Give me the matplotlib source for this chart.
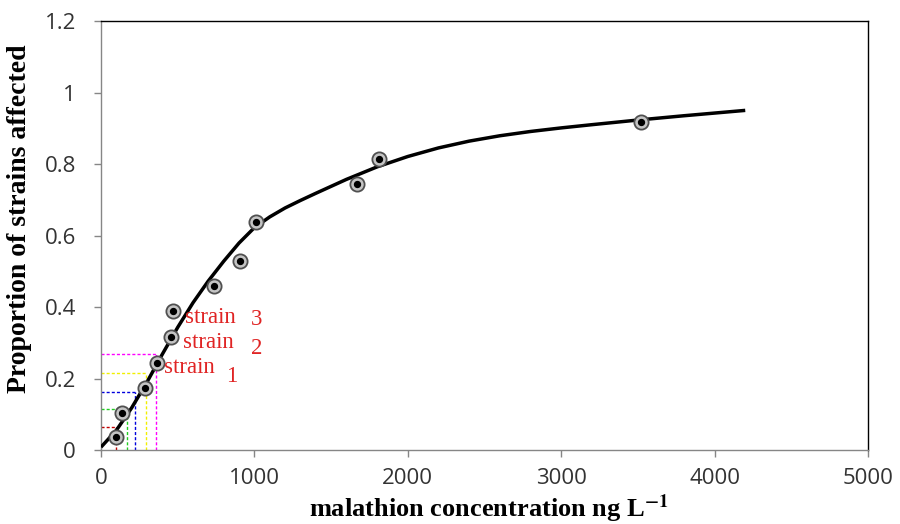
import matplotlib.pyplot as plt
import numpy as np

plt.rcParams["mathtext.fontset"] = "stix"

# observed points
conc = [96, 139, 287, 367, 454, 467, 739, 906, 1010, 1667, 1814, 3518]
prop = [0.036, 0.103, 0.173, 0.244, 0.317, 0.389, 0.459, 0.529, 0.639, 0.743, 0.814, 0.918]

# fitted curve
curve_x = [0, 100, 200, 300, 400, 500, 600, 700, 800, 900, 1000, 1100, 1200,
           1300, 1400, 1600, 1800, 2000, 2200, 2400, 2600, 2800, 3000, 3200,
           3500, 3800, 4200]
curve_y = [0.008, 0.055, 0.118, 0.19, 0.268, 0.343, 0.412, 0.473, 0.528, 0.579,
           0.622, 0.652, 0.677, 0.698, 0.718, 0.757, 0.792, 0.821, 0.845, 0.864,
           0.879, 0.891, 0.901, 0.910, 0.923, 0.935, 0.950]

# dashed guide lines (x on curve, y on curve)
guide_x = [100, 168, 224, 292, 358]
guide_y = [0.063, 0.114, 0.163, 0.216, 0.268]
guide_colors = ["#c00000", "#22cc22", "#0000dd", "#f0f000", "#ff00ff"]

# strain labels
label_text = ["strain", "strain", "strain"]
label_num = ["1", "2", "3"]
label_x = [411, 535, 548]
label_y = [0.232, 0.302, 0.372]
num_x = [852, 1015, 1015]
num_y = [0.205, 0.285, 0.366]

fig = plt.figure(figsize=(9, 5.24), dpi=100)
ax = fig.add_axes([0.1122, 0.1412, 0.8522, 0.8187])

for gx, gy, c in zip(guide_x, guide_y, guide_colors):
    ax.plot([0, gx], [gy, gy], color=c, lw=1, ls=(0, (2.2, 1.5)), zorder=2)
    ax.plot([gx, gx], [0, gy], color=c, lw=1, ls=(0, (2.2, 1.5)), zorder=2)

ax.plot(curve_x, curve_y, color="black", lw=2.5, zorder=3,
        solid_capstyle="butt", solid_joinstyle="round")

ax.scatter(conc, prop, s=105, facecolor="#c4c4c4", edgecolor="#505050",
           linewidth=1.3, zorder=4)
ax.scatter(conc, prop, s=18, color="black", zorder=5)

red = "#e02424"
for t, x, y in zip(label_text, label_x, label_y):
    ax.text(x, y, t, color=red, fontsize=16.5, family="Liberation Serif",
            va="center", ha="left", zorder=6)
for t, x, y in zip(label_num, num_x, num_y):
    ax.text(x, y, t, color=red, fontsize=16.5, family="Liberation Serif",
            va="center", ha="center", zorder=6)

ax.set_xlim(0, 5000)
ax.set_ylim(0, 1.2)
ax.set_xticks(np.arange(0, 5001, 1000))
ax.set_yticks([0, 0.2, 0.4, 0.6, 0.8, 1.0, 1.2])
ax.set_yticklabels(["0", "0.2", "0.4", "0.6", "0.8", "1", "1.2"])

for side in ["left", "bottom"]:
    ax.spines[side].set_color("#868686")
for side in ["top", "right"]:
    ax.spines[side].set_color("black")
for s in ax.spines.values():
    s.set_linewidth(1)

ax.tick_params(axis="both", direction="out", length=5, width=1,
               color="#868686", labelsize=16, labelcolor="#333333")
ax.tick_params(axis="y", pad=13)
ax.tick_params(axis="x", pad=8)
for lab in ax.get_xticklabels() + ax.get_yticklabels():
    lab.set_family("Open Sans")

ax.set_ylabel("Proportion of strains affected", family="Liberation Serif",
              fontsize=20, fontweight="bold")
ax.yaxis.set_label_coords(-0.09, 0.54)
ax.set_xlabel("malathion concentration ng L$^{\\mathbf{-1}}$",
              family="Liberation Serif", fontsize=19, fontweight="bold")
ax.xaxis.set_label_coords(0.505, -0.098)

fig.savefig("out.png", dpi=100)
